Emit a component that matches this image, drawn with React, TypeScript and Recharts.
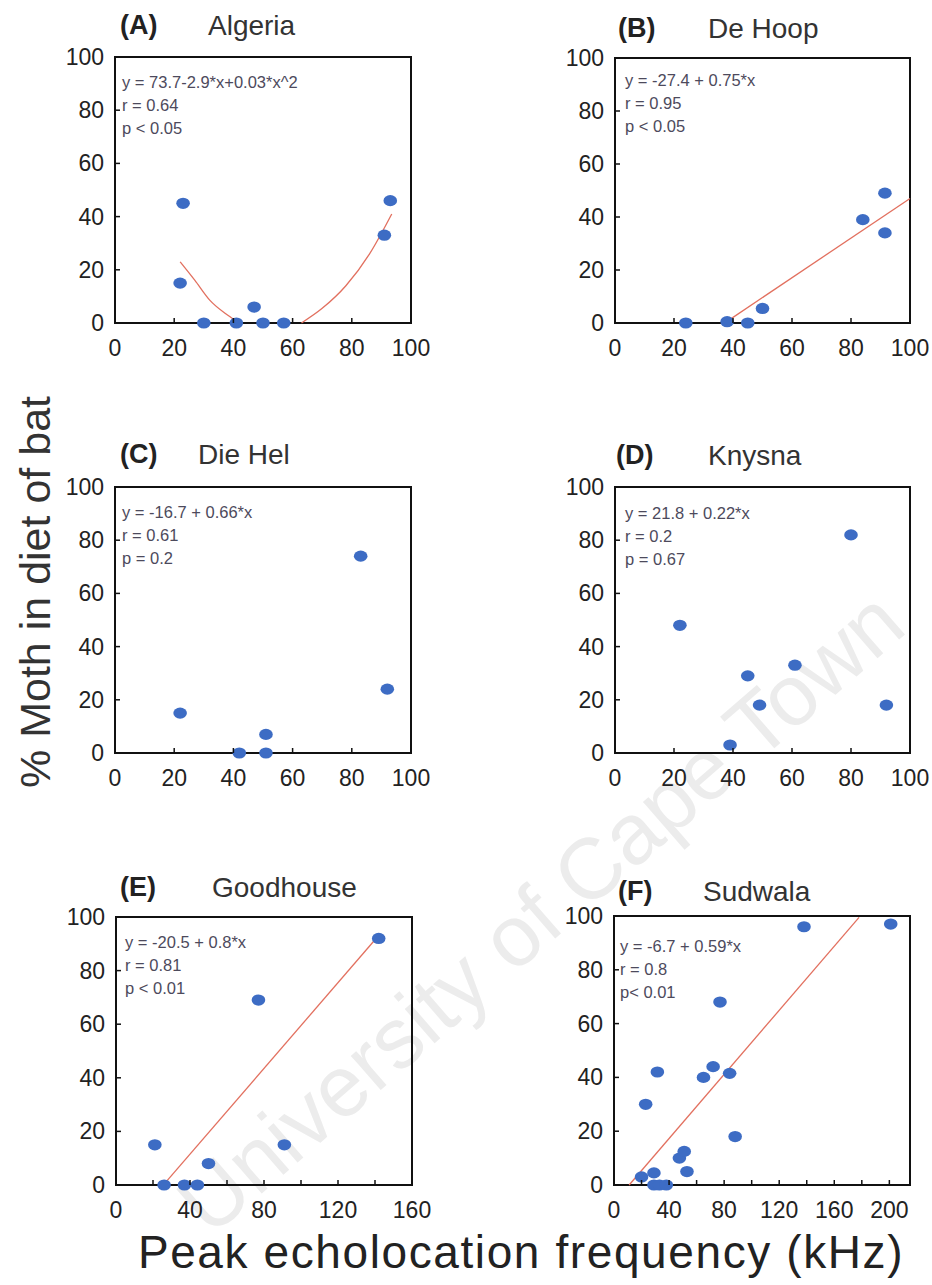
import React from "react";
import { ScatterChart, Scatter, XAxis, YAxis, ReferenceArea } from "recharts";

const BLUE = "#3d6cc4";
const RED = "#e2705f";
const FONT = "'Liberation Sans', Arial, sans-serif";

// values, one pair of arrays per site
const algeriaX = [23, 22, 30, 41, 47, 50, 57, 91, 93];
const algeriaY = [45, 15, 0, 0, 6, 0, 0, 33, 46];
const algeriaFitLeftX = [22, 27, 32, 38, 42];
const algeriaFitLeftY = [23, 16, 8.6, 3, 0];
const algeriaFitRightX = [63, 70, 78, 86, 93.5];
const algeriaFitRightY = [0, 5.5, 14, 26, 41];

const deHoopX = [24, 38, 45, 50, 84, 91.5, 91.5];
const deHoopY = [0, 0.5, 0, 5.5, 39, 49, 34];
const deHoopFitX = [38.5, 100];
const deHoopFitY = [1, 47];

const dieHelX = [22, 42, 51, 51, 83, 92];
const dieHelY = [15, 0, 7, 0, 74, 24];

const knysnaX = [22, 39, 45, 49, 61, 80, 92];
const knysnaY = [48, 3, 29, 18, 33, 82, 18];

const goodhouseX = [21, 26, 37, 44, 50, 77, 91, 142];
const goodhouseY = [15, 0, 0, 0, 8, 69, 15, 92];
const goodhouseFitX = [26, 140];
const goodhouseFitY = [0.3, 91.5];

const sudwalaX = [20, 23, 29, 31.5, 29, 33, 38, 47.5, 51, 53, 65, 72, 77, 84, 88, 138, 201];
const sudwalaY = [3, 30, 4.5, 42, 0, 0, 0, 10, 12.5, 5, 40, 44, 68, 41.5, 18, 96, 97];
const sudwalaFitX = [11, 178];
const sudwalaFitY = [0, 99.5];

const yTicks = [0, 20, 40, 60, 80, 100];
const xTicks100 = [0, 20, 40, 60, 80, 100];
const xTicks160 = [0, 20, 40, 60, 80, 100, 120, 140, 160];
const xTicks200 = [0, 20, 40, 60, 80, 100, 120, 140, 160, 180, 200];

const zip = (xs: number[], ys: number[]) => xs.map((x, i) => ({ x, y: ys[i] }));

type PanelDef = {
  letter: string;
  name: string;
  box: { left: number; top: number; w: number; h: number };
  xMax: number;
  xTicks: number[];
  labelEvery: number;
  points: { x: number; y: number }[];
  fits: { x: number; y: number }[][];
  notes: string[];
  noteX: number;
  noteY: number;
  titleX: number;
  nameX: number;
  titleY: number;
};

const panels: PanelDef[] = [
  {
    letter: "(A)", name: "Algeria",
    box: { left: 115, top: 57, w: 296, h: 266 },
    xMax: 100, xTicks: xTicks100, labelEvery: 20,
    points: zip(algeriaX, algeriaY),
    fits: [zip(algeriaFitLeftX, algeriaFitLeftY), zip(algeriaFitRightX, algeriaFitRightY)],
    notes: ["y = 73.7-2.9*x+0.03*x^2", "r = 0.64", "p < 0.05"],
    noteX: 122, noteY: 82, titleX: 120, nameX: 208, titleY: 25,
  },
  {
    letter: "(B)", name: "De Hoop",
    box: { left: 615, top: 58, w: 295, h: 265 },
    xMax: 100, xTicks: xTicks100, labelEvery: 20,
    points: zip(deHoopX, deHoopY),
    fits: [zip(deHoopFitX, deHoopFitY)],
    notes: ["y = -27.4 + 0.75*x", "r = 0.95", "p < 0.05"],
    noteX: 625, noteY: 80, titleX: 618, nameX: 708, titleY: 28,
  },
  {
    letter: "(C)", name: "Die Hel",
    box: { left: 115, top: 487, w: 296, h: 266 },
    xMax: 100, xTicks: xTicks100, labelEvery: 20,
    points: zip(dieHelX, dieHelY),
    fits: [],
    notes: ["y = -16.7 + 0.66*x", "r = 0.61", "p = 0.2"],
    noteX: 122, noteY: 512, titleX: 120, nameX: 198, titleY: 454,
  },
  {
    letter: "(D)", name: "Knysna",
    box: { left: 615, top: 487, w: 295, h: 266 },
    xMax: 100, xTicks: xTicks100, labelEvery: 20,
    points: zip(knysnaX, knysnaY),
    fits: [],
    notes: ["y = 21.8 + 0.22*x", "r = 0.2", "p = 0.67"],
    noteX: 625, noteY: 513, titleX: 616, nameX: 708, titleY: 455,
  },
  {
    letter: "(E)", name: "Goodhouse",
    box: { left: 116, top: 917, w: 296, h: 268 },
    xMax: 160, xTicks: xTicks160, labelEvery: 40,
    points: zip(goodhouseX, goodhouseY),
    fits: [zip(goodhouseFitX, goodhouseFitY)],
    notes: ["y = -20.5 + 0.8*x", "r = 0.81", "p < 0.01"],
    noteX: 125, noteY: 942, titleX: 120, nameX: 212, titleY: 887,
  },
  {
    letter: "(F)", name: "Sudwala",
    box: { left: 614, top: 916, w: 296, h: 269 },
    xMax: 215, xTicks: xTicks200, labelEvery: 40,
    points: zip(sudwalaX, sudwalaY),
    fits: [zip(sudwalaFitX, sudwalaFitY)],
    notes: ["y = -6.7 + 0.59*x", "r = 0.8", "p< 0.01"],
    noteX: 620, noteY: 946, titleX: 618, nameX: 703, titleY: 891,
  },
];

const Y_W = 60;
const X_H = 40;
const M = { top: 20, left: 10, right: 20, bottom: 10 };

const Dot = (props: any) => (
  <ellipse cx={props.cx} cy={props.cy} rx={6.8} ry={5.6} fill={BLUE} />
);

const NoDot = () => <g />;

function makeXTick(every: number) {
  return (props: any) => {
    const { x, y, payload } = props;
    return (
      <g>
        <line x1={x} x2={x} y1={y} y2={y - 5} stroke="#111" strokeWidth={1.5} />
        {payload.value % every === 0 && (
          <text x={x} y={y + 25} textAnchor="middle" dominantBaseline="central"
            fontFamily={FONT} fontSize={23} fill="#222">
            {payload.value}
          </text>
        )}
      </g>
    );
  };
}

const YTick = (props: any) => {
  const { x, y, payload } = props;
  return (
    <g>
      <line x1={x} x2={x + 5} y1={y} y2={y} stroke="#111" strokeWidth={1.5} />
      <text x={x - 11} y={y} textAnchor="end" dominantBaseline="central"
        fontFamily={FONT} fontSize={23} fill="#222">
        {payload.value}
      </text>
    </g>
  );
};

function Panel({ p }: { p: PanelDef }) {
  const width = p.box.w + M.left + Y_W + M.right;
  const height = p.box.h + M.top + X_H + M.bottom;
  return (
    <div style={{ position: "absolute", left: p.box.left - M.left - Y_W, top: p.box.top - M.top }}>
      <ScatterChart width={width} height={height} margin={M}>
        <XAxis type="number" dataKey="x" domain={[0, p.xMax]} ticks={p.xTicks} interval={0}
          height={X_H} tickSize={0} tickMargin={0} axisLine={false} tickLine={false}
          tick={makeXTick(p.labelEvery)} />
        <YAxis type="number" dataKey="y" domain={[0, 100]} ticks={yTicks} interval={0}
          width={Y_W} tickSize={0} tickMargin={0} axisLine={false} tickLine={false}
          tick={YTick} />
        <ReferenceArea x1={0} x2={p.xMax} y1={0} y2={100} fill="none" fillOpacity={0}
          stroke="#111" strokeWidth={2} />
        {p.fits.map((f, i) => (
          <Scatter key={"fit" + i} data={f} line={{ stroke: RED, strokeWidth: 1.3 }}
            lineJointType="monotoneX" shape={NoDot} isAnimationActive={false} />
        ))}
        <Scatter data={p.points} shape={Dot} isAnimationActive={false} />
      </ScatterChart>
    </div>
  );
}

export default function App() {
  return (
    <div style={{ position: "absolute", left: 0, top: 0, width: 932, height: 1285, background: "#fff", overflow: "hidden" }}>
      <svg width={932} height={1285} style={{ position: "absolute", left: 0, top: 0 }}>
        <text x={540} y={912} textAnchor="middle" dominantBaseline="central"
          transform="rotate(-41 540 912)" fontFamily={FONT} fontSize={86} fill="#ececec">
          University of Cape Town
        </text>
      </svg>
      {panels.map((p) => <Panel key={p.letter} p={p} />)}
      <svg width={932} height={1285} style={{ position: "absolute", left: 0, top: 0, pointerEvents: "none" }}>
        {panels.map((p) => (
          <g key={p.letter}>
            <text x={p.titleX} y={p.titleY} dominantBaseline="central" fontFamily={FONT}
              fontSize={27} fontWeight="bold" fill="#222">{p.letter}</text>
            <text x={p.nameX} y={p.titleY} dominantBaseline="central" fontFamily={FONT}
              fontSize={28} fill="#333">{p.name}</text>
            {p.notes.map((n, i) => (
              <text key={i} x={p.noteX} y={p.noteY + i * 23} dominantBaseline="central"
                fontFamily={FONT} fontSize={16.5} fill="#4d4a5c">{n}</text>
            ))}
          </g>
        ))}
        <text x={35} y={592} textAnchor="middle" dominantBaseline="central"
          transform="rotate(-90 35 592)" fontFamily={FONT} fontSize={43} fill="#333">
          % Moth in diet of bat
        </text>
        <text x={521} y={1252} textAnchor="middle" dominantBaseline="central"
          fontFamily={FONT} fontSize={46} fill="#222" letterSpacing={1.6}>
          Peak echolocation frequency (kHz)
        </text>
      </svg>
    </div>
  );
}
